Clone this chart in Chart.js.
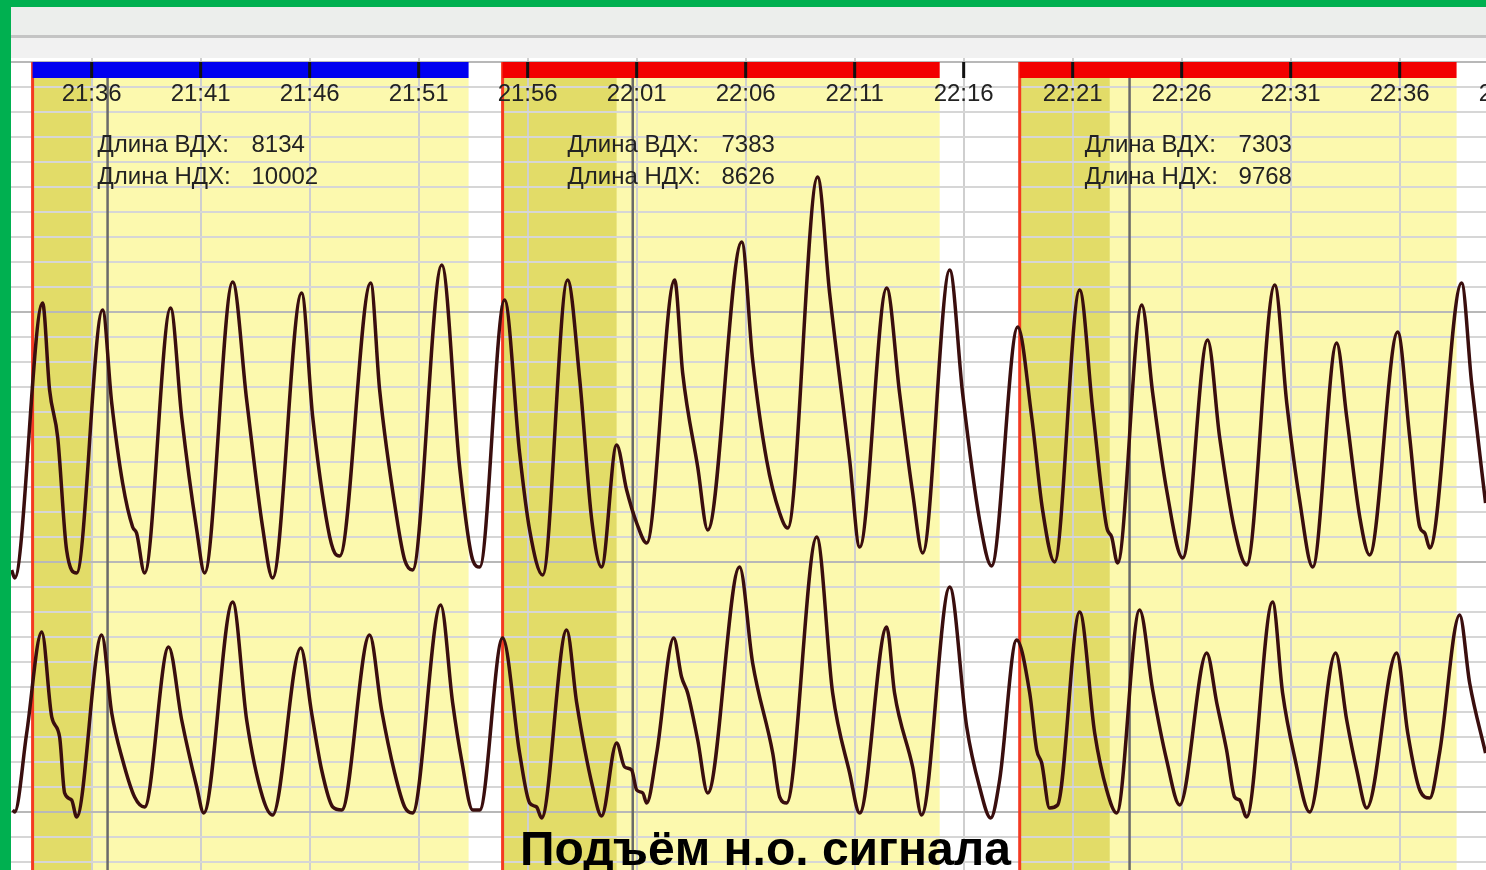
<!DOCTYPE html>
<html>
<head>
<meta charset="utf-8">
<script src="https://cdn.jsdelivr.net/npm/chart.js@4.4.0/dist/chart.umd.min.js"></script>
<style>
  html, body { margin: 0; padding: 0; }
  body { width: 1486px; height: 870px; overflow: hidden; background: #00b050; position: relative; font-family: "Liberation Sans", Arial, sans-serif; }
  #panel { position: absolute; left: 11px; top: 7px; right: 0; bottom: 0; background: #fff; }
  #head1 { position: absolute; left: 0; top: 0; right: 0; height: 28px; background: #eceeec; border-bottom: 3px solid #c4c4c4; }
  #head2 { position: absolute; left: 0; top: 31px; right: 0; height: 20px; background: #f1f1f1; }
  #wrap { position: absolute; left: 0; top: 51px; width: 1475px; height: 812px; }
  #caption { position: absolute; left: 520px; top: 825px; font: bold 48px/48px "Liberation Sans", Arial, sans-serif; color: #000; white-space: nowrap; }
</style>
</head>
<body>
<div id="panel">
  <div id="head1"></div>
  <div id="head2"></div>
  <div id="wrap"><canvas id="respChart"></canvas></div>
</div>
<div id="caption">Подъём н.о. сигнала</div>

<script>
// time axis: minutes after 21:00
const tickMinutes = [36, 41, 46, 51, 56, 61, 66, 71, 76, 81, 86, 91, 96, 101];
const tickLabels = ['21:36', '21:41', '21:46', '21:51', '21:56', '22:01', '22:06', '22:11', '22:16', '22:21', '22:26', '22:31', '22:36', '22:41'];

// scoring epochs
const epochStart = [33.29, 54.85, 78.57];
const epochEnd = [53.29, 74.90, 98.61];
const epochMarkEnd = [36.00, 60.08, 82.70];
const markerMinutes = [36.73, 60.82, 83.61];
const vdxLength = [8134, 7383, 7303];
const ndxLength = [10002, 8626, 9768];

// thoracic (ВДХ) signal
const upperT = [32.33, 32.47, 33.75, 34.07, 34.44, 34.85, 35.31, 36.50, 36.92, 37.42,
  37.88, 38.06, 38.43, 39.62, 40.13, 40.82, 41.18, 42.47, 43.11, 43.84,
  44.30, 45.63, 46.14, 46.83, 47.15, 47.38, 48.80, 49.21, 49.99, 50.36,
  50.72, 52.06, 52.88, 53.48, 53.80, 54.94, 55.63, 56.09, 56.69, 57.83,
  58.39, 58.94, 59.39, 60.08, 60.54, 61.00, 61.46, 62.74, 63.11, 63.80,
  64.26, 65.82, 66.32, 66.96, 67.56, 67.93, 69.30, 69.85, 70.77, 71.23,
  72.47, 73.06, 73.66, 74.12, 75.36, 75.95, 76.73, 77.28, 78.48, 79.12,
  79.62, 80.17, 81.32, 81.92, 82.56, 82.79, 83.06, 84.17, 84.67, 85.31,
  86.05, 87.19, 87.74, 88.43, 88.98, 90.27, 90.82, 91.41, 92.01, 93.11,
  93.57, 94.17, 94.62, 95.91, 96.46, 96.92, 97.15, 97.38, 98.84, 99.30,
  99.94];
const upperV = [11.68, 11.36, 22.36, 18.88, 17.0, 12.48, 11.56, 22.08, 18.36, 15.16,
  13.4, 13.16, 11.56, 22.16, 17.8, 13.28, 11.56, 23.2, 18.48, 13.4,
  11.36, 22.76, 17.8, 13.4, 12.36, 12.24, 23.16, 18.88, 13.8, 12.08,
  11.68, 23.88, 15.8, 12.08, 11.8, 22.48, 16.36, 13.28, 11.48, 23.28,
  19.28, 13.68, 11.8, 16.68, 14.88, 13.56, 12.76, 23.28, 19.56, 15.8,
  13.28, 24.8, 20.08, 16.08, 13.96, 13.36, 27.4, 22.76, 16.08, 12.6,
  22.96, 18.76, 14.76, 12.36, 23.68, 18.76, 13.68, 11.84, 21.4, 17.8,
  14.08, 12.0, 22.88, 18.08, 13.4, 13.0, 11.96, 22.28, 18.76, 14.88,
  12.16, 20.88, 17.0, 13.28, 11.88, 23.08, 18.36, 14.48, 11.8, 20.76,
  17.8, 13.8, 12.28, 21.2, 17.0, 13.4, 13.16, 12.56, 23.16, 19.16,
  14.36];

// abdominal (НДХ) signal
const lowerT = [32.38, 32.47, 33.02, 33.71, 34.17, 34.53, 34.76, 35.08, 35.31, 36.46,
  36.92, 37.42, 37.97, 38.43, 39.53, 40.13, 40.82, 41.14, 42.47, 43.11,
  43.84, 44.30, 45.59, 46.09, 46.55, 47.06, 47.47, 48.75, 49.30, 49.90,
  50.36, 50.72, 52.01, 52.56, 52.97, 53.48, 53.80, 54.85, 55.63, 56.09,
  56.41, 56.64, 57.79, 58.25, 58.98, 59.39, 60.08, 60.45, 60.77, 61.00,
  61.28, 61.46, 61.92, 62.70, 63.06, 63.34, 63.80, 64.26, 65.72, 66.32,
  67.24, 67.56, 67.88, 69.26, 69.99, 70.77, 71.23, 72.47, 72.83, 73.66,
  74.07, 75.36, 76.14, 76.73, 77.24, 77.65, 78.43, 79.03, 79.35, 79.58,
  79.94, 80.31, 81.32, 82.01, 82.56, 83.02, 84.07, 84.67, 85.31, 85.91,
  87.15, 87.61, 88.06, 88.43, 88.66, 88.98, 90.17, 90.63, 91.18, 91.87,
  93.06, 93.57, 94.03, 94.49, 95.86, 96.37, 96.92, 97.38, 97.83, 98.75,
  99.21, 99.94];
const lowerV = [2.08, 2.0, 5.16, 9.2, 5.8, 5.0, 2.76, 2.48, 1.8, 9.08,
  5.96, 4.08, 2.6, 2.2, 8.6, 5.68, 3.0, 1.96, 10.4, 5.68,
  2.6, 1.88, 8.56, 5.96, 3.68, 2.2, 2.08, 9.08, 6.08, 3.56,
  2.2, 1.96, 10.28, 6.36, 4.08, 2.08, 2.08, 8.96, 4.36, 2.36,
  2.2, 1.76, 9.28, 6.36, 3.0, 1.84, 4.76, 3.8, 3.68, 2.88,
  2.76, 2.36, 4.36, 8.96, 7.4, 6.76, 4.88, 2.76, 11.8, 7.96,
  4.36, 2.6, 2.36, 13.0, 6.76, 3.56, 1.96, 9.4, 6.76, 3.8,
  1.88, 11.0, 5.4, 3.0, 1.76, 3.28, 8.88, 6.76, 4.48, 3.96,
  2.16, 2.28, 10.0, 5.16, 2.88, 1.96, 10.08, 6.88, 4.08, 2.28,
  8.36, 6.36, 4.48, 2.6, 2.48, 1.8, 10.4, 6.76, 4.2, 2.0,
  8.36, 5.68, 3.68, 2.16, 8.36, 5.16, 2.88, 2.56, 4.36, 9.88,
  7.16, 4.36];

// styles
const epochColors = ['#0000f0', '#f20000', '#f20000'];
const traceColor = '#3a0e0e';
const labelFont = '24px "Liberation Sans", Arial, sans-serif';

const overlay = {
  id: 'overlay',
  beforeDraw(chart) {
    const { ctx, chartArea: { bottom }, scales: { x, y } } = chart;
    const shadeTop = y.getPixelForValue(31.36);
    ctx.save();
    ctx.fillStyle = '#fff';
    ctx.fillRect(0, 0, chart.width, chart.height);
    epochStart.forEach((s, i) => {
      const x0 = x.getPixelForValue(s), x1 = x.getPixelForValue(epochEnd[i]);
      ctx.fillStyle = '#fcf9ae';
      ctx.fillRect(x0, shadeTop, x1 - x0, bottom - shadeTop);
      const xm = x.getPixelForValue(epochMarkEnd[i]);
      ctx.fillStyle = '#e2dc68';
      ctx.fillRect(x0, shadeTop, xm - x0, bottom - shadeTop);
    });
    ctx.restore();
  },
  beforeDatasetsDraw(chart) {
    const { ctx, chartArea: { bottom }, scales: { x, y } } = chart;
    const shadeTop = y.getPixelForValue(31.36);
    ctx.save();
    ctx.strokeStyle = '#6a6a6a';
    ctx.lineWidth = 2.5;
    markerMinutes.forEach(m => {
      const px = x.getPixelForValue(m);
      ctx.beginPath(); ctx.moveTo(px, shadeTop); ctx.lineTo(px, bottom); ctx.stroke();
    });
    ctx.strokeStyle = '#f43a22';
    ctx.lineWidth = 3;
    epochStart.forEach(s => {
      const px = x.getPixelForValue(s);
      ctx.beginPath(); ctx.moveTo(px, y.getPixelForValue(32)); ctx.lineTo(px, bottom); ctx.stroke();
    });
    ctx.restore();
  },
  afterDraw(chart) {
    const { ctx, scales: { x, y } } = chart;
    const barTop = y.getPixelForValue(32), barBot = y.getPixelForValue(31.36);
    ctx.save();
    epochStart.forEach((s, i) => {
      const x0 = x.getPixelForValue(s), x1 = x.getPixelForValue(epochEnd[i]);
      ctx.fillStyle = epochColors[i];
      ctx.fillRect(x0, barTop, x1 - x0, barBot - barTop);
    });
    ctx.fillStyle = '#111';
    tickMinutes.forEach(m => {
      const px = x.getPixelForValue(m);
      ctx.fillRect(px - 1.5, barTop, 3, barBot - barTop);
    });
    ctx.font = labelFont;
    ctx.fillStyle = '#222';
    ctx.textAlign = 'center';
    ctx.textBaseline = 'middle';
    tickMinutes.forEach((m, i) => {
      ctx.fillText(tickLabels[i], x.getPixelForValue(m), y.getPixelForValue(30.72));
    });
    ctx.textAlign = 'left';
    ctx.textBaseline = 'alphabetic';
    epochStart.forEach((s, i) => {
      const lx = x.getPixelForValue(s + 2.98), vx = x.getPixelForValue(s + 10.04);
      const y1 = y.getPixelForValue(28.4), y2 = y.getPixelForValue(27.12);
      ctx.fillText('Длина ВДХ:', lx, y1);
      ctx.fillText(String(vdxLength[i]), vx, y1);
      ctx.fillText('Длина НДХ:', lx, y2);
      ctx.fillText(String(ndxLength[i]), vx, y2);
    });
    ctx.restore();
  }
};

const ctx = document.getElementById('respChart').getContext('2d');
new Chart(ctx, {
  type: 'line',
  data: {
    datasets: [{
      label: 'ВДХ',
      data: upperT.map((t, i) => ({ x: t, y: upperV[i] })),
      borderColor: traceColor,
      borderWidth: 3.5,
      pointRadius: 0,
      cubicInterpolationMode: 'monotone'
    }, {
      label: 'НДХ',
      data: lowerT.map((t, i) => ({ x: t, y: lowerV[i] })),
      borderColor: traceColor,
      borderWidth: 3.5,
      pointRadius: 0,
      cubicInterpolationMode: 'monotone'
    }]
  },
  options: {
    responsive: true,
    maintainAspectRatio: false,
    animation: false,
    layout: { padding: 0 },
    plugins: {
      legend: { display: false },
      tooltip: { enabled: false }
    },
    scales: {
      x: {
        type: 'linear',
        min: 32.30,
        max: 99.96,
        afterBuildTicks: scale => {
          scale.ticks = tickMinutes.filter(m => m <= 99.96).map(m => ({ value: m }));
        },
        ticks: { display: false },
        grid: { color: '#cfcfcf', lineWidth: 2, drawTicks: false },
        border: { display: false }
      },
      y: {
        min: -0.32,
        max: 32.16,
        afterBuildTicks: scale => {
          const t = [];
          for (let v = 0; v <= 32; v++) t.push({ value: v });
          scale.ticks = t;
        },
        ticks: { display: false },
        grid: {
          color: c => (c.tick && (c.tick.value - 2) % 10 === 0) ? '#b8b8b8' : '#d6d6d6',
          lineWidth: 2,
          drawTicks: false
        },
        border: { display: false }
      }
    }
  },
  plugins: [overlay]
});
</script>
</body>
</html>
